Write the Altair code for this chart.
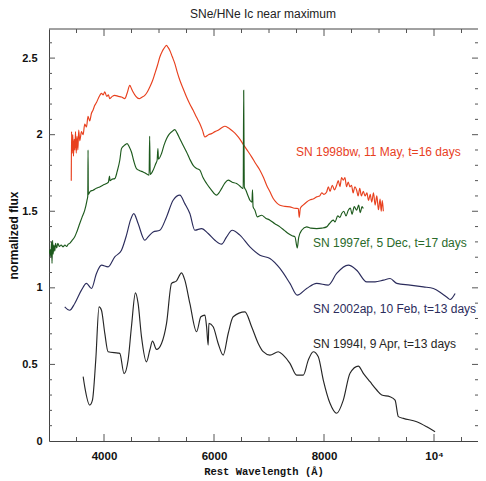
import altair as alt
import pandas as pd

# ---------------- data ----------------
wl_1998bw = [3405, 3410, 3420, 3432, 3445, 3458, 3470, 3482, 3495, 3510, 3525, 3540, 3560, 3590, 3620,
             3650, 3681, 3710, 3740, 3772, 3800, 3830, 3863, 3900, 3930, 3954, 3985, 4014, 4050, 4080,
             4105, 4150, 4196, 4260, 4318, 4378, 4420, 4469, 4500, 4529, 4580, 4638, 4690, 4742, 4790,
             4833, 4880, 4924, 4970, 5015, 5060, 5088, 5137, 5165, 5197, 5240, 5288, 5330, 5379, 5440,
             5501, 5560, 5621, 5680, 5743, 5790, 5834, 5900, 5956, 6020, 6076, 6140, 6198, 6260, 6320,
             6380, 6440, 6500, 6562, 6620, 6684, 6760, 6835, 6900, 6957, 7020, 7077, 7140, 7199, 7290,
             7381, 7460, 7532, 7550, 7570, 7620, 7685, 7750, 7800, 7867, 7920, 7960, 8000, 8048, 8080,
             8110, 8150, 8190, 8230, 8260, 8290, 8320, 8351, 8380, 8410, 8440, 8473, 8500, 8530, 8560,
             8594, 8620, 8650, 8680, 8715, 8746, 8780, 8810, 8840, 8868, 8900, 8930, 8960, 8990, 9020,
             9040, 9060, 9079]
fx_1998bw = [1.70, 2.02, 1.88, 2.00, 1.86, 1.97, 1.90, 2.02, 1.88, 1.99, 1.90, 2.03, 1.96, 2.02, 2.00,
             2.07, 2.05, 2.12, 2.09, 2.14, 2.16, 2.19, 2.21, 2.24, 2.26, 2.27, 2.26, 2.28, 2.25, 2.26,
             2.235, 2.25, 2.257, 2.25, 2.246, 2.235, 2.27, 2.322, 2.30, 2.279, 2.25, 2.235, 2.245, 2.257, 2.28,
             2.311, 2.35, 2.398, 2.45, 2.507, 2.545, 2.562, 2.583, 2.57, 2.55, 2.51, 2.464, 2.41, 2.355, 2.30,
             2.246, 2.20, 2.159, 2.115, 2.072, 2.03, 1.985, 2.00, 2.007, 2.02, 2.029, 2.045, 2.055, 2.045, 2.029,
             2.01, 1.985, 1.955, 1.92, 1.89, 1.855, 1.81, 1.768, 1.72, 1.67, 1.625, 1.583, 1.555, 1.539, 1.532,
             1.529, 1.52, 1.518, 1.46, 1.52, 1.54, 1.561, 1.575, 1.58, 1.594, 1.60, 1.62, 1.61, 1.626, 1.66,
             1.63, 1.67, 1.64, 1.67, 1.70, 1.66, 1.72, 1.703, 1.72, 1.66, 1.69, 1.659, 1.67, 1.62, 1.66,
             1.637, 1.60, 1.65, 1.60, 1.63, 1.60, 1.62, 1.57, 1.61, 1.56, 1.62, 1.54, 1.60, 1.51, 1.58,
             1.50, 1.57, 1.50]

wl_1997ef = [3000, 3020, 3035, 3045, 3055, 3065, 3075, 3090, 3105, 3120, 3140, 3160, 3190, 3220, 3255,
             3290, 3320, 3350, 3377, 3420, 3468, 3510, 3559, 3600, 3650, 3690, 3705, 3710, 3715, 3750,
             3801, 3860, 3923, 3980, 4044, 4080, 4100, 4110, 4150, 4196, 4240, 4287, 4318, 4370, 4420,
             4460, 4499, 4540, 4590, 4650, 4711, 4770, 4820, 4830, 4840, 4893, 4940, 4966, 4980, 4990,
             5046, 5090, 5137, 5180, 5228, 5288, 5330, 5379, 5440, 5501, 5560, 5621, 5680, 5743, 5800,
             5865, 5950, 6047, 6090, 6138, 6200, 6258, 6330, 6411, 6470, 6531, 6540, 6550, 6580, 6620,
             6653, 6690, 6700, 6710, 6744, 6786, 6866, 6940, 7017, 7100, 7199, 7280, 7350, 7420, 7472,
             7514, 7540, 7594, 7685, 7760, 7867, 7960, 8048, 8100, 8169, 8200, 8250, 8290, 8321, 8360,
             8400, 8442, 8480, 8510, 8550, 8594, 8630, 8660, 8690, 8715]
fx_1997ef = [1.22, 1.25, 1.20, 1.30, 1.16, 1.31, 1.22, 1.28, 1.24, 1.29, 1.26, 1.29, 1.27, 1.28, 1.268,
             1.28, 1.27, 1.285, 1.29, 1.31, 1.333, 1.37, 1.42, 1.46, 1.507, 1.57, 1.60, 1.90, 1.61, 1.63,
             1.637, 1.65, 1.659, 1.67, 1.681, 1.69, 1.73, 1.70, 1.71, 1.713, 1.76, 1.833, 1.909, 1.93, 1.942,
             1.92, 1.887, 1.83, 1.779, 1.765, 1.757, 1.745, 1.735, 1.99, 1.74, 1.768, 1.81, 1.833, 1.91, 1.84,
             1.877, 1.93, 1.974, 2.00, 2.018, 2.033, 2.01, 1.974, 1.93, 1.887, 1.84, 1.80, 1.78, 1.768, 1.72,
             1.681, 1.64, 1.605, 1.62, 1.648, 1.685, 1.703, 1.69, 1.681, 1.665, 1.648, 2.29, 1.66, 1.637, 1.60,
             1.572, 1.56, 1.64, 1.53, 1.507, 1.463, 1.474, 1.455, 1.442, 1.42, 1.398, 1.375, 1.355, 1.34, 1.333,
             1.26, 1.33, 1.376, 1.398, 1.39, 1.387, 1.39, 1.398, 1.42, 1.442, 1.43, 1.47, 1.46, 1.485, 1.50,
             1.47, 1.507, 1.52, 1.48, 1.53, 1.507, 1.54, 1.49, 1.53, 1.518]

wl_2002ap = [3286, 3377, 3468, 3590, 3681, 3772, 3863, 3954, 4074, 4196, 4318, 4409, 4481, 4542, 4620,
             4742, 4802, 4893, 5015, 5137, 5257, 5379, 5470, 5561, 5652, 5774, 5894, 6016, 6138, 6229,
             6331, 6471, 6653, 6835, 7017, 7199, 7381, 7514, 7685, 7867, 8078, 8230, 8442, 8594, 8777,
             8928, 9079, 9201, 9323, 9565, 9807, 9989, 10142, 10262, 10293, 10384]
fx_2002ap = [0.876, 0.854, 0.898, 0.985, 1.029, 0.996, 1.094, 1.148, 1.137, 1.202, 1.246, 1.344, 1.442, 1.485, 1.42,
             1.311, 1.333, 1.365, 1.376, 1.463, 1.572, 1.605, 1.55, 1.485, 1.376, 1.387, 1.355, 1.311, 1.285, 1.333,
             1.376, 1.344, 1.267, 1.213, 1.192, 1.127, 1.029, 0.952, 0.996, 1.029, 1.018, 1.094, 1.148, 1.115, 1.039,
             1.039, 1.05, 1.061, 1.029, 1.018, 1.006, 0.996, 0.963, 0.931, 0.924, 0.963]

wl_1994I = [3621, 3650, 3741, 3790, 3850, 3910, 3954, 4014, 4074, 4256, 4287, 4365, 4438, 4499, 4572,
            4620, 4682, 4773, 4833, 4882, 4955, 5046, 5137, 5228, 5319, 5410, 5470, 5561, 5683, 5761,
            5834, 5865, 5894, 5907, 5985, 6076, 6167, 6258, 6349, 6562, 6684, 6804, 6895, 7017, 7168,
            7259, 7381, 7503, 7624, 7714, 7805, 7896, 7987, 8109, 8230, 8351, 8473, 8624, 8715, 8837,
            8959, 9050, 9200, 9292, 9352, 9443, 9686, 9869, 10020]
fx_1994I = [0.42, 0.354, 0.235, 0.267, 0.528, 0.876, 0.854, 0.704, 0.583, 0.574, 0.572, 0.44, 0.528, 0.746, 0.967,
            0.898, 0.68, 0.517, 0.594, 0.652, 0.598, 0.637, 0.768, 1.029, 1.046, 1.098, 1.05, 0.898, 0.713, 0.811,
            0.822, 0.746, 0.626, 0.768, 0.746, 0.637, 0.561, 0.702, 0.811, 0.843, 0.746, 0.637, 0.583, 0.561, 0.583,
            0.561, 0.507, 0.43, 0.43, 0.528, 0.583, 0.55, 0.398, 0.246, 0.181, 0.267, 0.442, 0.489, 0.442, 0.387,
            0.333, 0.30, 0.289, 0.267, 0.159, 0.148, 0.126, 0.093, 0.061]

series_names = ["SN 1998bw", "SN 1997ef", "SN 2002ap", "SN 1994I"]
series_colors = ["#e8401e", "#1d5a1d", "#2b2c5c", "#262626"]

label_texts = ["SN 1998bw, 11 May, t=16 days", "SN 1997ef, 5 Dec, t=17 days",
               "SN 2002ap, 10 Feb, t=13 days", "SN 1994I, 9 Apr, t=13 days"]
label_wl = [7491, 7800, 7800, 7800]
label_fx = [1.887, 1.29, 0.861, 0.633]
label_colors = ["#e8401e", "#2a6a2a", "#2b2c5c", "#262626"]

title_text = ["SNe/HNe Ic near maximum"]

x_major = [4000, 6000, 8000, 10000]
x_minor = [3500, 4500, 5000, 5500, 6500, 7000, 7500, 8500, 9000, 9500, 10500]
y_major = [0, 0.5, 1, 1.5, 2, 2.5]
y_minor = [0.1, 0.2, 0.3, 0.4, 0.6, 0.7, 0.8, 0.9, 1.1, 1.2, 1.3, 1.4, 1.6, 1.7, 1.8, 1.9,
           2.1, 2.2, 2.3, 2.4, 2.6]

# ---------------- build ----------------
W, H = 429, 412
XT = "Rest Wavelength (Å)"
YT = "normalized flux"
xs = alt.Scale(domain=[3000, 10800], nice=False, zero=False)
ys = alt.Scale(domain=[0, 2.69], nice=False, zero=False)

frames = []
for name, wl, fx in [("SN 1998bw", wl_1998bw, fx_1998bw), ("SN 1997ef", wl_1997ef, fx_1997ef),
                     ("SN 2002ap", wl_2002ap, fx_2002ap), ("SN 1994I", wl_1994I, fx_1994I)]:
    frames.append(pd.DataFrame({"wl": wl, "flux": fx, "series": name, "idx": range(len(wl))}))
spec = pd.concat(frames, ignore_index=True)

lines = alt.Chart(spec).mark_line(strokeWidth=1.15, clip=True, interpolate="monotone").encode(
    x=alt.X("wl:Q", scale=xs, title=XT,
            axis=alt.Axis(values=x_major, labelExpr="datum.value == 10000 ? '10⁴' : datum.label",
                          format="d", domain=True, domainColor="#444", ticks=False, grid=False,
                          labelFont="Liberation Sans", labelFontWeight="bold", labelFontSize=11.5,
                          labelColor="#111", labelPadding=9,
                          titleFont="Liberation Mono", titleFontWeight="bold", titleFontSize=10.5,
                          titleColor="#111", titleBaseline="alphabetic", titleY=33)),
    y=alt.Y("flux:Q", scale=ys, title=YT,
            axis=alt.Axis(values=y_major, format="~g", domain=True, domainColor="#444",
                          ticks=False, grid=False,
                          labelFont="Liberation Sans", labelFontWeight="bold", labelFontSize=11,
                          labelColor="#111",
                          labelPadding={"condition": {"test": "datum.value % 1 != 0", "value": 12},
                                        "value": 7},
                          titleFont="Liberation Sans", titleFontWeight="bold", titleFontSize=12,
                          titleColor="#111", titleBaseline="alphabetic", titleX=-31.5, titleY=H / 2)),
    color=alt.Color("series:N", scale=alt.Scale(domain=series_names, range=series_colors), legend=None),
    detail="series:N",
    order="idx:Q",
)

labels_df = pd.DataFrame({"wl": label_wl, "flux": label_fx, "text": label_texts, "color": label_colors})
labels = alt.Chart(labels_df).mark_text(align="left", baseline="middle", fontSize=12,
                                        font="Liberation Sans").encode(
    x=alt.X("wl:Q", scale=xs, title=XT),
    y=alt.Y("flux:Q", scale=ys, title=YT),
    text="text:N",
    color=alt.Color("color:N", scale=None),
)

title = alt.Chart(pd.DataFrame({"t": title_text})).mark_text(
    align="center", baseline="alphabetic", fontSize=12, font="Liberation Sans", color="#222").encode(
    x=alt.value(214), y=alt.value(-11.5), text="t:N")


def tick_layers(vals, channel, length):
    out = []
    if channel == "x":
        df = pd.DataFrame({"wl": vals})
        enc = alt.X("wl:Q", scale=xs, title=XT)
        out.append(alt.Chart(df).mark_rule(color="#555", strokeWidth=1).encode(
            x=enc, y=alt.value(H), y2=alt.value(H - length)))
        out.append(alt.Chart(df).mark_rule(color="#555", strokeWidth=1).encode(
            x=enc, y=alt.value(0), y2=alt.value(length)))
    else:
        df = pd.DataFrame({"flux": vals})
        enc = alt.Y("flux:Q", scale=ys, title=YT)
        out.append(alt.Chart(df).mark_rule(color="#555", strokeWidth=1).encode(
            y=enc, x=alt.value(0), x2=alt.value(length)))
        out.append(alt.Chart(df).mark_rule(color="#555", strokeWidth=1).encode(
            y=enc, x=alt.value(W), x2=alt.value(W - length)))
    return out


ticks = (tick_layers(x_major, "x", 7) + tick_layers(x_minor, "x", 4)
         + tick_layers(y_major[1:], "y", 6) + tick_layers(y_minor, "y", 3))

top_frame = alt.Chart(pd.DataFrame({"k": [0]})).mark_rule(color="#444", strokeWidth=1).encode(
    x=alt.value(0), x2=alt.value(W), y=alt.value(0))

chart = alt.layer(lines, labels, title, top_frame, *ticks).properties(
    width=W, height=H,
    autosize=alt.AutoSizeParams(type="none"),
    padding={"left": 41, "top": 21, "right": 0, "bottom": 40},
    background="white",
).configure_view(strokeWidth=0)

chart.save("out.html", embed_options={"renderer": "svg", "actions": False})
